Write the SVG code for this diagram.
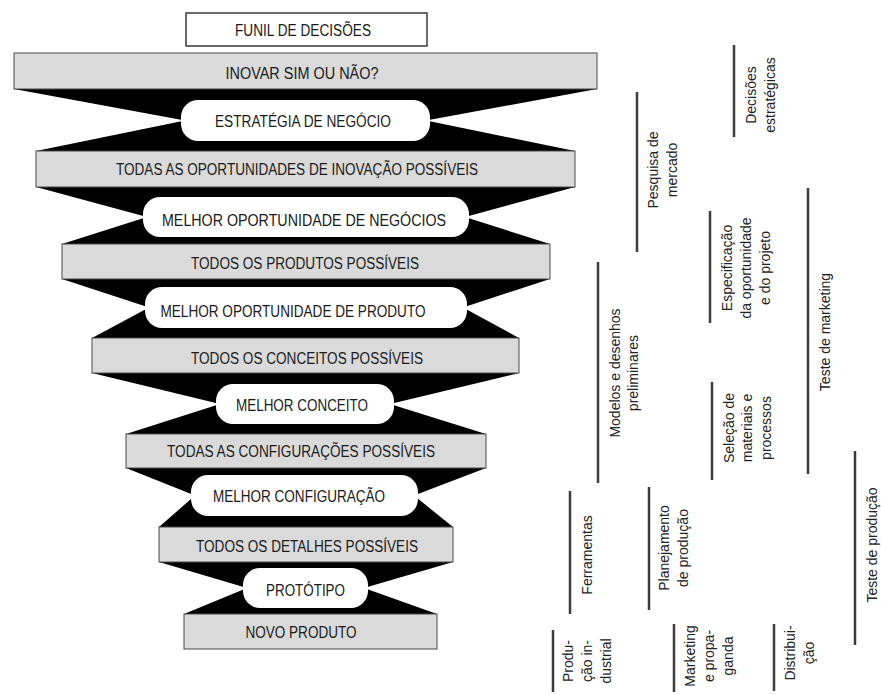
<svg xmlns="http://www.w3.org/2000/svg" width="881" height="695" viewBox="0 0 881 695">
<style>
.bar{fill:#dadada;stroke:#4a4a4a;stroke-width:1}
.box{fill:#fff;stroke:#3a3a3a;stroke-width:1.5}
.pill{fill:#fff}
.funnel{fill:#000}
.t{font-family:"Liberation Sans",Arial,sans-serif;font-size:16px;fill:#1a1a1a;text-anchor:middle}
.r{font-family:"Liberation Sans",Arial,sans-serif;font-size:14px;fill:#222;text-anchor:middle}
.ln{stroke:#3c3c3c;stroke-width:2.5}
</style>
<rect width="881" height="695" fill="#fff"/>

<g id="connectors">
<polygon class="funnel" points="14,89 597,89 426,120.5 575,151 36,151 185,120.5"/>
<polygon class="funnel" points="36,187 575,187 465,217 550,244 62,244 147,217"/>
<polygon class="funnel" points="62,279 550,279 463,307.5 519,338 92,338 149,307.5"/>
<polygon class="funnel" points="92,373 519,373 390,404 486,434 126,434 220,404"/>
<polygon class="funnel" points="126,468 486,468 414,495.5 453,527 159,527 195,495.5"/>
<polygon class="funnel" points="159,562 453,562 364,588 437,614 184,614 247,588"/>
</g>

<g id="funil">
<rect class="box" x="186" y="13" width="241" height="33"/>
<text class="t" x="303" y="36" font-size="15" textLength="136" lengthAdjust="spacingAndGlyphs">FUNIL DE DECISÕES</text>
</g>

<g id="inovar">
<rect class="bar" x="14" y="53" width="583" height="36"/>
<text class="t" x="302" y="79" textLength="153" lengthAdjust="spacingAndGlyphs">INOVAR SIM OU NÃO?</text>
</g>
<g id="estrategia">
<rect class="pill" x="181" y="100" width="249" height="41" rx="17"/>
<text class="t" x="303" y="127" textLength="176" lengthAdjust="spacingAndGlyphs">ESTRATÉGIA DE NEGÓCIO</text>
</g>
<g id="oportunidades">
<rect class="bar" x="36" y="151" width="539" height="36"/>
<text class="t" x="297" y="175" textLength="362" lengthAdjust="spacingAndGlyphs">TODAS AS OPORTUNIDADES DE INOVAÇÃO POSSÍVEIS</text>
</g>
<g id="melhor-negocios">
<rect class="pill" x="143" y="197" width="326" height="40" rx="17"/>
<text class="t" x="304" y="226" textLength="284" lengthAdjust="spacingAndGlyphs">MELHOR OPORTUNIDADE DE NEGÓCIOS</text>
</g>
<g id="produtos">
<rect class="bar" x="62" y="244" width="488" height="35"/>
<text class="t" x="305" y="269" textLength="228" lengthAdjust="spacingAndGlyphs">TODOS OS PRODUTOS POSSÍVEIS</text>
</g>
<g id="melhor-produto">
<rect class="pill" x="145" y="287" width="322" height="41" rx="17"/>
<text class="t" x="293" y="317" textLength="265" lengthAdjust="spacingAndGlyphs">MELHOR OPORTUNIDADE DE PRODUTO</text>
</g>
<g id="conceitos">
<rect class="bar" x="92" y="338" width="427" height="35"/>
<text class="t" x="307" y="364" textLength="232" lengthAdjust="spacingAndGlyphs">TODOS OS CONCEITOS POSSÍVEIS</text>
</g>
<g id="melhor-conceito">
<rect class="pill" x="216" y="384" width="178" height="40" rx="17"/>
<text class="t" x="302" y="411" textLength="132" lengthAdjust="spacingAndGlyphs">MELHOR CONCEITO</text>
</g>
<g id="configuracoes">
<rect class="bar" x="126" y="434" width="360" height="34"/>
<text class="t" x="301" y="457" textLength="268" lengthAdjust="spacingAndGlyphs">TODAS AS CONFIGURAÇÕES POSSÍVEIS</text>
</g>
<g id="melhor-configuracao">
<rect class="pill" x="191" y="475" width="227" height="41" rx="17"/>
<text class="t" x="299" y="502" textLength="172" lengthAdjust="spacingAndGlyphs">MELHOR CONFIGURAÇÃO</text>
</g>
<g id="detalhes">
<rect class="bar" x="159" y="527" width="294" height="35"/>
<text class="t" x="307" y="552" textLength="222" lengthAdjust="spacingAndGlyphs">TODOS OS DETALHES POSSÍVEIS</text>
</g>
<g id="prototipo">
<rect class="pill" x="243" y="568" width="125" height="40" rx="17"/>
<text class="t" x="305.5" y="596" textLength="79" lengthAdjust="spacingAndGlyphs">PROTÓTIPO</text>
</g>
<g id="novo-produto">
<rect class="bar" x="184" y="614" width="253" height="35"/>
<text class="t" x="301" y="638" textLength="111" lengthAdjust="spacingAndGlyphs">NOVO PRODUTO</text>
</g>

<g id="decisoes-estrategicas">
<line class="ln" x1="734" y1="45" x2="734" y2="137"/>
<text class="r" transform="translate(756,95) rotate(-90)">Decisões</text>
<text class="r" transform="translate(775,95) rotate(-90)">estratégicas</text>
</g>
<g id="pesquisa-mercado">
<line class="ln" x1="637" y1="92" x2="637" y2="252"/>
<text class="r" transform="translate(658,170) rotate(-90)">Pesquisa de</text>
<text class="r" transform="translate(677,170) rotate(-90)">mercado</text>
</g>
<g id="especificacao">
<line class="ln" x1="710" y1="211" x2="710" y2="323"/>
<text class="r" transform="translate(732,268) rotate(-90)">Especificação</text>
<text class="r" transform="translate(751,268) rotate(-90)">da oportunidade</text>
<text class="r" transform="translate(770,268) rotate(-90)">e do projeto</text>
</g>
<g id="teste-marketing">
<line class="ln" x1="808" y1="188" x2="808" y2="474"/>
<text class="r" transform="translate(830,332) rotate(-90)">Teste de marketing</text>
</g>
<g id="modelos">
<line class="ln" x1="598" y1="262" x2="598" y2="483"/>
<text class="r" transform="translate(620,373) rotate(-90)">Modelos e desenhos</text>
<text class="r" transform="translate(638,373) rotate(-90)">preliminares</text>
</g>
<g id="selecao">
<line class="ln" x1="712" y1="382" x2="712" y2="480"/>
<text class="r" transform="translate(734,428) rotate(-90)">Seleção de</text>
<text class="r" transform="translate(752,428) rotate(-90)">materiais e</text>
<text class="r" transform="translate(771,428) rotate(-90)">processos</text>
</g>
<g id="ferramentas">
<line class="ln" x1="570" y1="491" x2="570" y2="614"/>
<text class="r" transform="translate(592,555) rotate(-90)">Ferramentas</text>
</g>
<g id="planejamento">
<line class="ln" x1="649" y1="487" x2="649" y2="610"/>
<text class="r" transform="translate(669,548) rotate(-90)">Planejamento</text>
<text class="r" transform="translate(688,548) rotate(-90)">de produção</text>
</g>
<g id="teste-producao">
<line class="ln" x1="855" y1="451" x2="855" y2="645"/>
<text class="r" transform="translate(877,545) rotate(-90)">Teste de produção</text>
</g>
<g id="producao-industrial">
<line class="ln" x1="553" y1="630" x2="553" y2="692"/>
<text class="r" transform="translate(573,661) rotate(-90)">Produ-</text>
<text class="r" transform="translate(592,661) rotate(-90)">ção in-</text>
<text class="r" transform="translate(611,661) rotate(-90)">dustrial</text>
</g>
<g id="marketing-propaganda">
<line class="ln" x1="674" y1="624" x2="674" y2="692"/>
<text class="r" transform="translate(695,656) rotate(-90)">Marketing</text>
<text class="r" transform="translate(714,656) rotate(-90)">e propa-</text>
<text class="r" transform="translate(733,656) rotate(-90)">ganda</text>
</g>
<g id="distribuicao">
<line class="ln" x1="774" y1="624" x2="774" y2="691"/>
<text class="r" transform="translate(795,653) rotate(-90)">Distribui-</text>
<text class="r" transform="translate(814,653) rotate(-90)">ção</text>
</g>
</svg>
